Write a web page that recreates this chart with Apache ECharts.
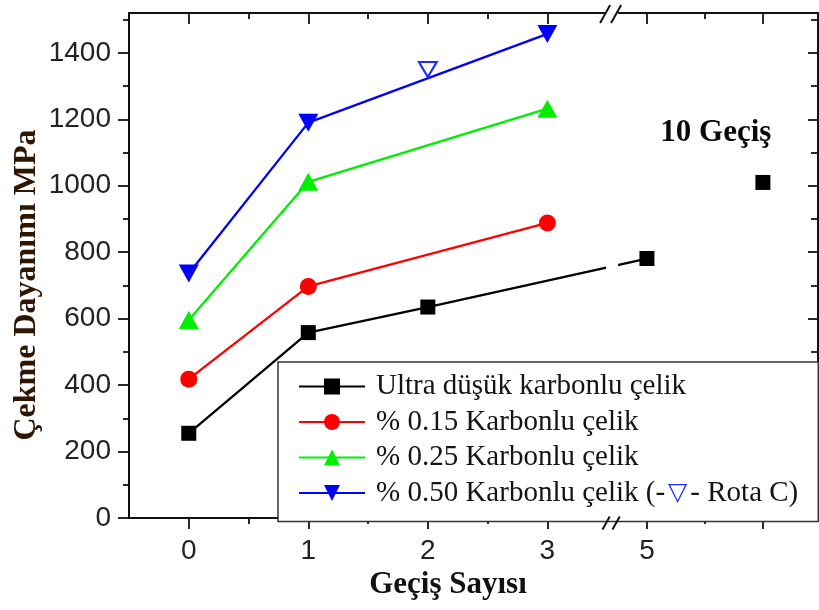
<!DOCTYPE html>
<html>
<head>
<meta charset="utf-8">
<script src="https://cdn.jsdelivr.net/npm/echarts@6/dist/echarts.min.js"></script>
<style>
  html, body { margin: 0; padding: 0; background: #fff; }
  #chart { width: 819px; height: 610px; }
</style>
</head>
<body>
<div id="chart"></div>
<script>
// Pass counts and where each one sits on the broken x axis
// (0–3 evenly spaced, then 5 and 10 after the axis break).
const passLabels = ['0', '1', '2', '3', '5', '10'];
const passSlot = [0, 1, 2, 3, 3.833, 4.803];
const minorSlots = [0.5, 1.5, 2.5, 4.318];
const breakSlot = 3.55;
const labelledPasses = ['0', '1', '2', '3', '5'];

// Tensile strength (MPa) per pass count; null = not measured.
const ultraLow = [255, 558, 635, null, 781, null];
const ultraLow10 = [null, null, null, null, null, 1010];
const carbon015 = [418, 697, null, 888, null, null];
const carbon025 = [596, 1012, null, 1232, null, null];
const carbon050 = [736, 1190, null, 1457, null, null];
const carbon050RotaC = [null, null, 1350, null, null, null];

const yMajorTicks = [0, 200, 400, 600, 800, 1000, 1200, 1400];
const yMinorTicks = [100, 300, 500, 700, 900, 1100, 1300, 1500];

const seriesNames = [
  'Ultra düşük karbonlu çelik',
  '% 0.15 Karbonlu çelik',
  '% 0.25 Karbonlu çelik',
  '% 0.50 Karbonlu çelik'
];

function toPoints(values) {
  const pts = [];
  values.forEach((v, i) => { if (v !== null) pts.push([passSlot[i], v]); });
  return pts;
}

function slotLabel(v) {
  const i = passSlot.findIndex(s => Math.abs(s - v) < 1e-6);
  return i >= 0 && labelledPasses.includes(passLabels[i]) ? passLabels[i] : '';
}

const X_MIN = -0.5, X_MAX = 5.264, Y_MIN = 0, Y_MAX = 1520;
const axisColor = '#111';
const tickStyle = { color: axisColor, width: 1.8 };

function xAxisDef(position, ticks, len, inside, withLine, withLabels) {
  return {
    type: 'value', position, min: X_MIN, max: X_MAX,
    splitLine: { show: false },
    axisLine: { show: withLine, onZero: false, lineStyle: { color: axisColor, width: 2 } },
    axisTick: { show: true, inside, length: len, customValues: ticks, lineStyle: tickStyle },
    axisLabel: withLabels ? {
      show: true, customValues: passSlot.slice(0, 5), formatter: slotLabel,
      fontFamily: 'Liberation Sans', fontSize: 28, color: '#222', margin: 19
    } : { show: false }
  };
}

function yAxisDef(position, ticks, len, inside, withLine, withLabels) {
  return {
    type: 'value', position, min: Y_MIN, max: Y_MAX,
    splitLine: { show: false },
    axisLine: { show: withLine, onZero: false, lineStyle: { color: axisColor, width: 2 } },
    axisTick: { show: true, inside, length: len, customValues: ticks, lineStyle: tickStyle },
    axisLabel: withLabels ? {
      show: true, customValues: yMajorTicks, formatter: v => String(v),
      fontFamily: 'Liberation Sans', fontSize: 28, color: '#222', margin: 18
    } : { show: false }
  };
}

const lineBase = (name, values, color, symbol, size, rotate) => ({
  name, type: 'line', data: toPoints(values), connectNulls: true,
  symbol, symbolSize: size, symbolRotate: rotate || 0,
  lineStyle: { color, width: 2.3 }, itemStyle: { color, opacity: 1 },
  z: 3
});

const chart = echarts.init(document.getElementById('chart'), null, { renderer: 'canvas' });

const option = {
  animation: false,
  backgroundColor: '#fff',
  grid: { left: 129, top: 13, right: 1, bottom: 92 },
  xAxis: [
    xAxisDef('bottom', passSlot, 11, false, true, true),
    xAxisDef('bottom', minorSlots, 6, false, false, false),
    xAxisDef('top', passSlot, 11, true, true, false),
    xAxisDef('top', minorSlots, 6, true, false, false)
  ],
  yAxis: [
    yAxisDef('left', yMajorTicks, 11, false, true, true),
    yAxisDef('left', yMinorTicks, 6, false, false, false),
    yAxisDef('right', yMajorTicks, 10, true, true, false),
    yAxisDef('right', yMinorTicks, 7, true, false, false)
  ],
  legend: {
    orient: 'vertical',
    left: 278, top: 362,
    data: seriesNames,
    itemWidth: 66, itemHeight: 20, itemGap: 6.5,
    padding: [10, 20, 14, 20],
    backgroundColor: '#fff',
    borderColor: '#333', borderWidth: 1.5, borderRadius: 0,
    selectedMode: false,
    textStyle: {
      fontFamily: 'Liberation Serif', fontSize: 29, color: '#141414',
      padding: [0, 0, 0, 6],
      rich: {
        tri: { fontFamily: 'DejaVu Sans', fontSize: 25, color: '#1f2bff', padding: [0, 3, 0, 3] }
      }
    },
    formatter: name => name === seriesNames[3] ? name + ' (-{tri|▽}- Rota C)' : name
  },
  series: [
    lineBase(seriesNames[0], ultraLow, '#000000', 'rect', 15),
    {
      name: '10 Geçiş', type: 'scatter', data: toPoints(ultraLow10),
      symbol: 'rect', symbolSize: 15, itemStyle: { color: '#000000', opacity: 1 }, z: 3,
      label: {
        show: true, formatter: '10 Geçiş', position: 'top', offset: [-47, -21],
        fontFamily: 'Liberation Serif', fontWeight: 'bold', fontSize: 31, color: '#0a0a0a'
      }
    },
    lineBase(seriesNames[1], carbon015, '#ff0000', 'circle', 17),
    lineBase(seriesNames[2], carbon025, '#00ee00', 'triangle', [20, 18]),
    lineBase(seriesNames[3], carbon050, '#0000ff', 'triangle', [20, 18], 180),
    {
      name: 'Rota C', type: 'scatter', data: toPoints(carbon050RotaC),
      symbol: 'emptyTriangle', symbolSize: [18, 15], symbolRotate: 180,
      itemStyle: { color: '#1f2bff', borderColor: '#1f2bff', borderWidth: 1.8, opacity: 1 }, z: 4
    }
  ]
};

chart.setOption(option);

// Axis break: white gap in the top axis and the black line, plus "//" marks.
function drawBreak() {
  const bx = chart.convertToPixel({ xAxisIndex: 0 }, breakSlot);
  const yTop = chart.convertToPixel({ yAxisIndex: 0 }, Y_MAX);
  const yBottom = chart.convertToPixel({ yAxisIndex: 0 }, Y_MIN);
  const yCut = chart.convertToPixel({ yAxisIndex: 0 }, 550);
  const slash = (x, yc, h) => ({
    type: 'line', z: 20,
    shape: { x1: x - h * 0.28, y1: yc + h / 2, x2: x + h * 0.28, y2: yc - h / 2 },
    style: { stroke: '#111', lineWidth: 2 }
  });
  chart.setOption({
    graphic: [
      { type: 'rect', z: 19, shape: { x: bx - 7, y: yTop - 3, width: 12, height: yCut - yTop + 3 }, style: { fill: '#fff' } },
      slash(bx - 8, yTop + 1, 18), slash(bx + 3, yTop + 1, 18),
      slash(bx - 7, yBottom + 5, 13), slash(bx + 3, yBottom + 5, 13),
      {
        type: 'text', z: 20, x: 27, y: 285, rotation: Math.PI / 2,
        style: {
          text: 'Çekme Dayanımı MPa', fontFamily: 'Liberation Serif', fontWeight: 'bold',
          fontSize: 32, fill: '#2e1603', align: 'center', verticalAlign: 'middle'
        }
      },
      {
        type: 'text', z: 20, x: 448, y: 585,
        style: {
          text: 'Geçiş Sayısı', fontFamily: 'Liberation Serif', fontWeight: 'bold',
          fontSize: 31, fill: '#111', align: 'center', verticalAlign: 'middle'
        }
      }
    ]
  });
}
drawBreak();
</script>
</body>
</html>
